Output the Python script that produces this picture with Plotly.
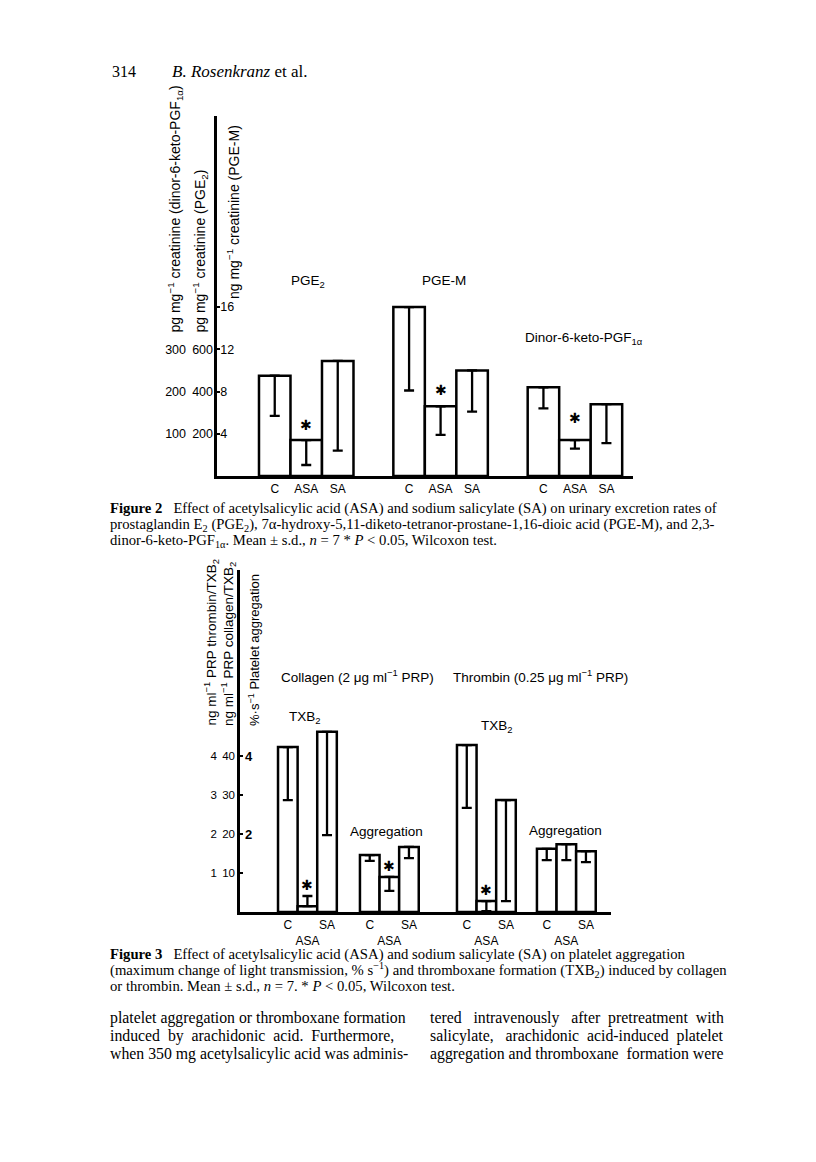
import plotly.graph_objects as go

W, H = 816, 1162

# ---------------- data ----------------
treatments = ["C", "ASA", "SA"]

# Figure 2: urinary excretion, mean with s.d. (drawn downward)
pge2_mean = [475, 170, 545]      # pg mg-1 creatinine
pge2_sd = [190, 118, 425]
pgem_mean = [16.0, 6.6, 10.0]    # ng mg-1 creatinine
pgem_sd = [7.9, 2.7, 3.9]
dinor_mean = [210, 85, 170]      # pg mg-1 creatinine
dinor_sd = [50, 20, 92]
fig2_signif = [False, True, False]

pgem_ticks = [4, 8, 12, 16]
pge2_ticks = [200, 400, 600]
dinor_ticks = [100, 200, 300]

# Figure 3: TXB2 (ng ml-1 PRP) and aggregation (% s-1)
col_txb2_mean = [42.3, 1.5, 46.2]
col_txb2_sd = [13.6, 2.6, 26.5]
col_txb2_up = [False, True, False]   # s.d. drawn upward for ASA
col_agg_mean = [1.46, 0.90, 1.67]
col_agg_sd = [0.15, 0.36, 0.29]
thr_txb2_mean = [4.28, 0.28, 2.87]
thr_txb2_sd = [1.61, 0.26, 2.59]
thr_agg_mean = [1.62, 1.74, 1.56]
thr_agg_sd = [0.29, 0.41, 0.28]
fig3_signif = [False, True, False]

col_ticks = [10, 20, 30, 40]
thr_ticks = [1, 2, 3, 4]
agg_ticks = [2, 4]

# ---------------- layout helpers ----------------
SANS = "Liberation Sans"
SERIF = "Liberation Serif"


def px(x):
    return x / W


def py(y):
    return 1 - y / H


fig = go.Figure()


def add_bars(xs, mean, sd, xa, ya, up=None, width=1.0):
    up = up or [False] * len(mean)
    fig.add_trace(go.Bar(
        x=xs, y=mean, width=width, xaxis=xa, yaxis=ya,
        marker=dict(color="white", line=dict(color="black", width=2.5)),
        error_y=dict(type="data", symmetric=False,
                     array=[s if u else 0 for s, u in zip(sd, up)],
                     arrayminus=[0 if u else s for s, u in zip(sd, up)],
                     color="black", thickness=2.3, width=5),
        showlegend=False, hoverinfo="skip"))


def add_stars(xs, mean, sd, signif, xa, ya, up=None, shift=16):
    up = up or [False] * len(mean)
    for x, m, s, sig, u in zip(xs, mean, sd, signif, up):
        if sig:
            fig.add_annotation(x=x, y=m + (s if u else 0), xref=xa, yref=ya,
                               text="✱", showarrow=False, yshift=shift,
                               font=dict(family="DejaVu Sans", size=14, color="black"))


# ---------------- Figure 2 ----------------
f2_left, f2_group = 1.333, 4.265
f2_x = [[f2_left + 0.5 + g * f2_group + i for i in range(3)] for g in range(3)]
f2_top = 34.1

add_bars(f2_x[0], pge2_mean, pge2_sd, "x", "y2")
add_bars(f2_x[1], pgem_mean, pgem_sd, "x", "y")
add_bars(f2_x[2], dinor_mean, dinor_sd, "x", "y3")
add_stars(f2_x[0], pge2_mean, pge2_sd, fig2_signif, "x", "y2", shift=15)
add_stars(f2_x[1], pgem_mean, pgem_sd, fig2_signif, "x", "y", shift=16)
add_stars(f2_x[2], dinor_mean, dinor_sd, fig2_signif, "x", "y3", shift=22)

# ---------------- Figure 3 ----------------
f3_lefts = [1.94, 6.12, 11.07, 15.15]
f3_x = [[l + 0.5 + i for i in range(3)] for l in f3_lefts]
f3_top = 87.7

add_bars(f3_x[0], col_txb2_mean, col_txb2_sd, "x2", "y4", up=col_txb2_up)
add_bars(f3_x[1], col_agg_mean, col_agg_sd, "x2", "y6")
add_bars(f3_x[2], thr_txb2_mean, thr_txb2_sd, "x2", "y5")
add_bars(f3_x[3], thr_agg_mean, thr_agg_sd, "x2", "y6")
add_stars(f3_x[0], col_txb2_mean, col_txb2_sd, fig3_signif, "x2", "y4", up=col_txb2_up, shift=11)
add_stars(f3_x[1], col_agg_mean, col_agg_sd, fig3_signif, "x2", "y6", shift=11)
add_stars(f3_x[2], thr_txb2_mean, thr_txb2_sd, fig3_signif, "x2", "y5", shift=11)

tickfont = dict(family=SANS, size=12.5, color="black")
hidden = dict(showgrid=False, zeroline=False, showline=False, ticks="", fixedrange=True)

fig.update_layout(
    width=W, height=H, margin=dict(l=0, r=0, t=0, b=0),
    paper_bgcolor="white", plot_bgcolor="rgba(0,0,0,0)",
    barmode="overlay", showlegend=False,
    xaxis=dict(domain=[px(209), px(625)], range=[0, 416 / 31.5], anchor="y",
               showline=True, linewidth=2.5, linecolor="black", showgrid=False, zeroline=False,
               ticks="", tickangle=0, tickvals=sum(f2_x, []), ticktext=treatments * 3,
               tickfont=dict(family=SANS, size=12, color="black")),
    yaxis=dict(domain=[py(468), py(108)], range=[0, f2_top], anchor="x",
               showline=True, linewidth=2.5, linecolor="black", showgrid=False, zeroline=False,
               ticks="inside", ticklen=3, tickwidth=2, tickcolor="black",
               ticklabelposition="inside", tickvals=pgem_ticks, tickfont=tickfont),
    yaxis2=dict(overlaying="y", anchor="free", position=px(205), side="left",
                range=[0, f2_top * 50], tickvals=pge2_ticks, tickfont=tickfont, **hidden),
    yaxis3=dict(overlaying="y", anchor="free", position=px(178), side="left",
                range=[0, f2_top * 25], tickvals=dinor_ticks, tickfont=tickfont, **hidden),
    xaxis2=dict(domain=[px(232), px(603)], range=[0, 371 / 19.6], anchor="y4",
                showline=True, linewidth=2.5, linecolor="black", showgrid=False, zeroline=False,
                ticks="", tickangle=0, tickvals=sum(f3_x, []),
                ticktext=["C", "<br>ASA", "SA"] * 4,
                tickfont=dict(family=SANS, size=12, color="black")),
    yaxis4=dict(domain=[py(904), py(562)], range=[0, f3_top], anchor="x2",
                showline=True, linewidth=2.5, linecolor="black", showgrid=False, zeroline=False,
                ticks="inside", ticklen=3, tickwidth=2, tickcolor="black",
                tickvals=col_ticks, tickfont=dict(family=SANS, size=11.5, color="black")),
    yaxis5=dict(overlaying="y4", anchor="free", position=px(209), side="left",
                range=[0, f3_top / 10], tickvals=thr_ticks,
                tickfont=dict(family=SANS, size=11.5, color="black"), **hidden),
    yaxis6=dict(overlaying="y4", anchor="free", position=px(236), side="right",
                range=[0, f3_top / 10], tickvals=agg_ticks,
                ticktext=["<b>%d</b>" % t for t in agg_ticks],
                tickfont=dict(family=SANS, size=13, color="black"), **hidden),
)


def text(x, y, s, size=13.5, family=SANS, xanchor="center", yanchor="middle", angle=0):
    fig.add_annotation(x=px(x), y=py(y), xref="paper", yref="paper", text=s,
                       showarrow=False, xanchor=xanchor, yanchor=yanchor, textangle=angle,
                       font=dict(family=family, size=size, color="black"))


# page header
text(102, 63, "314", size=16, family=SERIF, xanchor="left")
text(162, 63, "<i>B. Rosenkranz</i> et al.", size=17, family=SERIF, xanchor="left")

# Figure 2 labels
text(167, 327, "pg mg<sup>−1</sup> creatinine (dinor-6-keto-PGF<sub>1α</sub>)", size=14, yanchor="bottom", angle=-90)
text(192, 327, "pg mg<sup>−1</sup> creatinine (PGE<sub>2</sub>)", size=14, yanchor="bottom", angle=-90)
text(225, 293, "ng mg<sup>−1</sup> creatinine (PGE-M)", size=14, yanchor="bottom", angle=-90)
text(300, 273, "PGE<sub>2</sub>")
text(436, 272, "PGE-M")
text(576, 330, "Dinor-6-keto-PGF<sub>1α</sub>")

# Figure 3 labels
text(203, 720, "ng ml<sup>−1</sup> PRP thrombin/TXB<sub>2</sub>", size=13.5, yanchor="bottom", angle=-90)
text(220, 720, "ng ml<sup>−1</sup> PRP collagen/TXB<sub>2</sub>", size=13.5, yanchor="bottom", angle=-90)
text(246, 720, "%·s<sup>−1</sup> Platelet aggregation", size=13, yanchor="bottom", angle=-90)
text(349, 668, "Collagen (2 μg ml<sup>−1</sup> PRP)")
text(532, 668, "Thrombin (0.25 μg ml<sup>−1</sup> PRP)")
text(297, 709, "TXB<sub>2</sub>")
text(489, 718, "TXB<sub>2</sub>")
text(378, 823, "Aggregation")
text(557, 822, "Aggregation")

# captions
cap2 = [
    "<b>Figure 2</b>   Effect of acetylsalicylic acid (ASA) and sodium salicylate (SA) on urinary excretion rates of",
    "prostaglandin E<sub>2</sub> (PGE<sub>2</sub>), 7α-hydroxy-5,11-diketo-tetranor-prostane-1,16-dioic acid (PGE-M), and 2,3-",
    "dinor-6-keto-PGF<sub>1α</sub>. Mean ± s.d., <i>n</i> = 7 * <i>P</i> &lt; 0.05, Wilcoxon test.",
]
for i, line in enumerate(cap2):
    text(100, 501 + 16 * i, line, size=14.7, family=SERIF, xanchor="left")

cap3 = [
    "<b>Figure 3</b>   Effect of acetylsalicylic acid (ASA) and sodium salicylate (SA) on platelet aggregation",
    "(maximum change of light transmission, % s<sup>−1</sup>) and thromboxane formation (TXB<sub>2</sub>) induced by collagen",
    "or thrombin. Mean ± s.d., <i>n</i> = 7. * <i>P</i> &lt; 0.05, Wilcoxon test.",
]
for i, line in enumerate(cap3):
    text(100, 946 + 16 * i, line, size=14.7, family=SERIF, xanchor="left")

body_left = [
    "platelet aggregation or thromboxane formation",
    "induced  by  arachidonic  acid.  Furthermore,",
    "when 350 mg acetylsalicylic acid was adminis-",
]
body_right = [
    "tered   intravenously   after  pretreatment  with",
    "salicylate,   arachidonic  acid-induced  platelet",
    "aggregation and thromboxane  formation were",
]
for i, line in enumerate(body_left):
    text(100, 1010 + 18 * i, line.replace("  ", "&nbsp; "), size=15.8, family=SERIF, xanchor="left")
for i, line in enumerate(body_right):
    text(420, 1010 + 18 * i, line.replace("  ", "&nbsp; "), size=15.8, family=SERIF, xanchor="left")

fig.write_html("out.html")
